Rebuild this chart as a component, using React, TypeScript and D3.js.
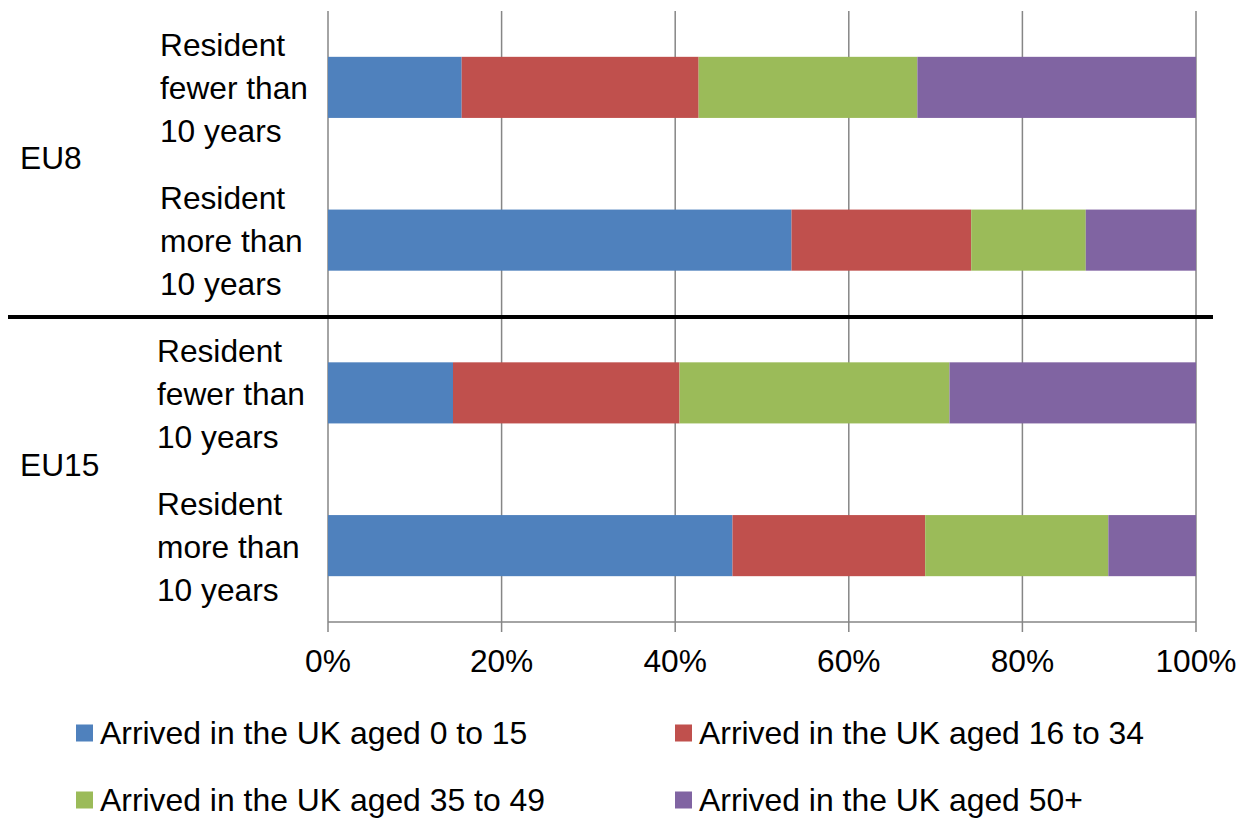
import React from "react";
import * as d3 from "d3";

const groups = ["EU8", "EU15"];
const categories = ["EU8 fewer", "EU8 more", "EU15 fewer", "EU15 more"];
const categoryLabels = [
  ["Resident", "fewer than", "10 years"],
  ["Resident", "more than", "10 years"],
  ["Resident", "fewer than", "10 years"],
  ["Resident", "more than", "10 years"],
];
const seriesNames = [
  "Arrived in the UK aged 0 to 15",
  "Arrived in the UK aged 16 to 34",
  "Arrived in the UK aged 35 to 49",
  "Arrived in the UK aged 50+",
];
const aged0to15 = [15.4, 53.4, 14.4, 46.6];
const aged16to34 = [27.3, 20.7, 26.1, 22.2];
const aged35to49 = [25.2, 13.2, 31.1, 21.1];
const aged50plus = [32.1, 12.7, 28.4, 10.1];
const colors = ["#4F81BD", "#C0504D", "#9BBB59", "#8064A2"];
const xTicks = [0, 20, 40, 60, 80, 100];

export default function App() {
  const W = 1250, H = 822;
  const left = 328, right = 1196, top = 11, bottom = 622;
  const x = d3.scaleLinear().domain([0, 100]).range([left, right]);
  const y = d3.scaleBand().domain(categories).range([top, bottom]).paddingInner(0.6).paddingOuter(0.3);
  const series = [aged0to15, aged16to34, aged35to49, aged50plus];
  const rows = categories.map((c, i) => {
    const o: any = { cat: c };
    series.forEach((s, k) => (o["s" + k] = s[i]));
    return o;
  });
  const stack = d3.stack().keys(["s0", "s1", "s2", "s3"])(rows as any);
  const font = "Liberation Sans, Arial, sans-serif";
  const fs = 31.7;
  const legendFs = 31.9;
  const lineH = 43;
  const labelX = [160, 160, 157, 157];
  const groupY = [158, 465];

  return (
    <svg width={W} height={H} style={{ display: "block", position: "absolute", left: 0, top: 0 }} fontFamily={font}>
      <rect width={W} height={H} fill="#fff" />
      {xTicks.map((t) => (
        <line key={"g" + t} x1={x(t)} x2={x(t)} y1={top} y2={bottom + 10} stroke="#868686" strokeWidth={1.5} />
      ))}
      <line x1={left} x2={right} y1={bottom} y2={bottom} stroke="#868686" strokeWidth={1.5} />
      {stack.map((layer, k) =>
        layer.map((d, i) => (
          <rect
            key={k + "-" + i}
            x={x(d[0])}
            width={x(d[1]) - x(d[0])}
            y={y(categories[i])}
            height={y.bandwidth()}
            fill={colors[k]}
          />
        ))
      )}
      <line x1={8} x2={1213} y1={317} y2={317} stroke="#000" strokeWidth={4} />
      {xTicks.map((t) => (
        <text key={"t" + t} x={x(t)} y={672} textAnchor="middle" fontSize={fs} fill="#000">
          {t + "%"}
        </text>
      ))}
      {categories.map((c, i) => {
        const cy = (y(c) as number) + y.bandwidth() / 2;
        return categoryLabels[i].map((ln, j) => (
          <text key={c + j} x={labelX[i]} y={cy + (j - 1) * lineH + 12} fontSize={fs} fill="#000">
            {ln}
          </text>
        ));
      })}
      {groups.map((g, i) => (
        <text key={g} x={20} y={groupY[i] + 11} fontSize={fs} fill="#000">
          {g}
        </text>
      ))}
      {seriesNames.map((n, k) => {
        const col = k % 2;
        const row = Math.floor(k / 2);
        const lx = col === 0 ? 76 : 675;
        const ly = row === 0 ? 733 : 800;
        return (
          <g key={n}>
            <rect x={lx} y={ly - 8.5} width={17} height={17} fill={colors[k]} />
            <text x={lx + 24} y={ly + 11} fontSize={legendFs} fill="#000">
              {n}
            </text>
          </g>
        );
      })}
    </svg>
  );
}
